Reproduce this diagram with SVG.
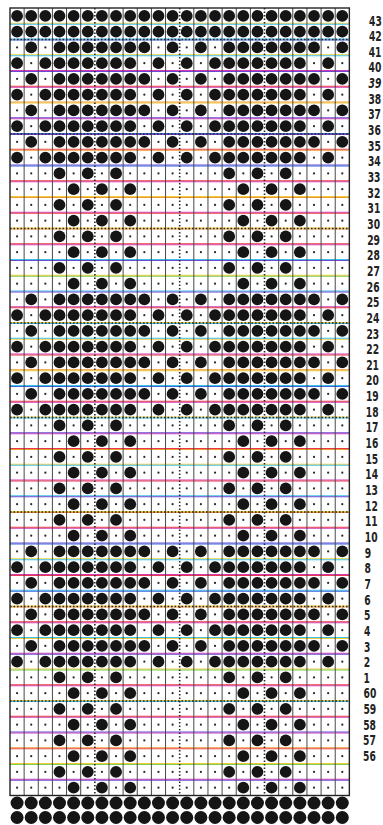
<svg xmlns="http://www.w3.org/2000/svg" width="383" height="825" viewBox="0 0 383 825">
<style>
.bg{fill:#ffffff}
.ln{fill:none;stroke-width:1}
.y{stroke:#f0cc3a}
.c{stroke:#3cc2ea}
.m{stroke:#d43ab8}
.r{stroke:#e8384a}
.v{stroke:#6a48d4}
.o{stroke:#f0982e}
.b{stroke:#3a66e0}
.g{stroke:#80cc4a}
.vl{fill:none;stroke:#484848;stroke-width:1}
.dot{fill:none;stroke:#2a2a2a;stroke-width:1.6;stroke-dasharray:1.6 1.9}
.frame{fill:none;stroke:#222;stroke-width:1.4}
.hole{fill:#151515}
.pin{fill:#2a2a2a}
.lab{font-family:"DejaVu Sans","Liberation Sans",sans-serif;font-size:13.5px;font-weight:bold;fill:#222}
</style>
<defs>
<circle id="h" class="hole" r="5.9"/>
<circle id="H" class="hole" r="6.5"/>
<circle id="d" class="pin" r="1.1"/>
<g id="hA"><use href="#h" x="17.07"/><use href="#h" x="31.21"/><use href="#h" x="45.35"/><use href="#h" x="59.49"/><use href="#h" x="73.63"/><use href="#h" x="87.77"/><use href="#h" x="101.91"/><use href="#h" x="116.05"/><use href="#h" x="130.19"/><use href="#h" x="144.33"/><use href="#h" x="158.47"/><use href="#h" x="172.61"/></g>
<g id="hB"><use href="#d" x="17.07"/><use href="#h" x="31.21"/><use href="#d" x="45.35"/><use href="#h" x="59.49"/><use href="#h" x="73.63"/><use href="#h" x="87.77"/><use href="#h" x="101.91"/><use href="#h" x="116.05"/><use href="#h" x="130.19"/><use href="#h" x="144.33"/><use href="#d" x="158.47"/><use href="#h" x="172.61"/></g>
<g id="hC"><use href="#h" x="17.07"/><use href="#d" x="31.21"/><use href="#h" x="45.35"/><use href="#h" x="59.49"/><use href="#h" x="73.63"/><use href="#h" x="87.77"/><use href="#h" x="101.91"/><use href="#h" x="116.05"/><use href="#h" x="130.19"/><use href="#d" x="144.33"/><use href="#h" x="158.47"/><use href="#d" x="172.61"/></g>
<g id="hD"><use href="#d" x="17.07"/><use href="#d" x="31.21"/><use href="#d" x="45.35"/><use href="#h" x="59.49"/><use href="#d" x="73.63"/><use href="#h" x="87.77"/><use href="#d" x="101.91"/><use href="#h" x="116.05"/><use href="#d" x="130.19"/><use href="#d" x="144.33"/><use href="#d" x="158.47"/><use href="#d" x="172.61"/></g>
<g id="hE"><use href="#d" x="17.07"/><use href="#d" x="31.21"/><use href="#d" x="45.35"/><use href="#d" x="59.49"/><use href="#h" x="73.63"/><use href="#d" x="87.77"/><use href="#h" x="101.91"/><use href="#d" x="116.05"/><use href="#h" x="130.19"/><use href="#d" x="144.33"/><use href="#d" x="158.47"/><use href="#d" x="172.61"/></g>
<g id="hF"><use href="#H" x="17.07"/><use href="#H" x="31.21"/><use href="#H" x="45.35"/><use href="#H" x="59.49"/><use href="#H" x="73.63"/><use href="#H" x="87.77"/><use href="#H" x="101.91"/><use href="#H" x="116.05"/><use href="#H" x="130.19"/><use href="#H" x="144.33"/><use href="#H" x="158.47"/><use href="#H" x="172.61"/></g>
<g id="rA"><use href="#hA"/><use href="#hA" x="169.68"/></g>
<g id="rB"><use href="#hB"/><use href="#hB" x="169.68"/></g>
<g id="rC"><use href="#hC"/><use href="#hC" x="169.68"/></g>
<g id="rD"><use href="#hD"/><use href="#hD" x="169.68"/></g>
<g id="rE"><use href="#hE"/><use href="#hE" x="169.68"/></g>
<g id="rF"><use href="#hF"/><use href="#hF" x="169.68"/></g>
</defs>
<rect class="bg" x="0" y="0" width="383" height="825"/>
<g id="row-lines">
<path class="ln y" d="M10 23.25H349.4M10 54.75H349.4M10 196.5H349.4M10 228H349.4M10 275.25H349.4M10 322.5H349.4M10 417H349.4M10 464.25H349.4M10 511.5H349.4M10 558.75H349.4M10 606H349.4M10 669H349.4M10 700.5H349.4M10 763.5H349.4M10 103H349.4M10 339.25H349.4M10 370.75H349.4M10 638.5H349.4"/>
<path class="ln c" d="M10 39H349.4M10 259.5H349.4M10 291H349.4M10 338.25H349.4M10 385.5H349.4M10 495.75H349.4M10 590.25H349.4M10 637.5H349.4M10 24.25H349.4M10 55.75H349.4M10 323.5H349.4M10 418H349.4M10 465.25H349.4M10 559.75H349.4M10 701.5H349.4"/>
<path class="ln m" d="M10 70.5H349.4M10 212.25H349.4M10 306.75H349.4M10 354H349.4M10 480H349.4M10 574.5H349.4M10 653.25H349.4M10 779.25H349.4M10 87.25H349.4M10 118.75H349.4M10 181.75H349.4M10 244.75H349.4M10 402.25H349.4M10 433.75H349.4M10 528.25H349.4M10 622.75H349.4M10 685.75H349.4M10 717.25H349.4M10 733H349.4"/>
<path class="ln r" d="M10 86.25H349.4M10 149.25H349.4M10 180.75H349.4M10 243.75H349.4M10 401.25H349.4M10 448.5H349.4M10 527.25H349.4M10 621.75H349.4M10 684.75H349.4M10 716.25H349.4M10 213.25H349.4M10 307.75H349.4M10 355H349.4M10 481H349.4M10 575.5H349.4M10 748.75H349.4"/>
<path class="ln v" d="M10 117.75H349.4M10 165H349.4M10 432.75H349.4M10 543H349.4M10 732H349.4M10 71.5H349.4M10 134.5H349.4M10 260.5H349.4M10 292H349.4M10 496.75H349.4M10 654.25H349.4M10 780.25H349.4"/>
<path class="ln o" d="M10 102H349.4M10 369.75H349.4M10 747.75H349.4M10 150.25H349.4M10 197.5H349.4M10 229H349.4M10 449.5H349.4M10 512.5H349.4M10 607H349.4"/>
<path class="ln b" d="M10 133.5H349.4M10 40H349.4M10 166H349.4M10 386.5H349.4M10 544H349.4M10 591.25H349.4"/>
<path class="ln g" d="M10 276.25H349.4M10 670H349.4M10 764.5H349.4"/>
</g>
<g id="column-lines">
<path class="vl" d="M24.14 8V795.5M38.28 8V795.5M52.42 8V795.5M66.56 8V795.5M80.7 8V795.5M108.98 8V795.5M123.12 8V795.5M137.26 8V795.5M151.4 8V795.5M165.54 8V795.5M193.82 8V795.5M207.96 8V795.5M222.1 8V795.5M236.24 8V795.5M250.38 8V795.5M278.66 8V795.5M292.8 8V795.5M306.94 8V795.5M321.08 8V795.5M335.22 8V795.5"/>
<path class="dot" d="M94.84 8V795.5M179.68 8V795.5M264.52 8V795.5"/>
<path class="dot" d="M10 39.5H349.4M10 134H349.4M10 228.5H349.4M10 323H349.4M10 417.5H349.4M10 512H349.4M10 606.5H349.4M10 701H349.4"/>
<rect class="frame" x="10" y="8" width="339.36" height="787.5"/>
</g>
<g id="holes">
<use href="#rA" y="15.88"/>
<use href="#rA" y="31.63"/>
<use href="#rB" y="47.38"/>
<use href="#rC" y="63.13"/>
<use href="#rB" y="78.88"/>
<use href="#rC" y="94.63"/>
<use href="#rB" y="110.38"/>
<use href="#rC" y="126.13"/>
<use href="#rB" y="141.88"/>
<use href="#rC" y="157.63"/>
<use href="#rD" y="173.38"/>
<use href="#rE" y="189.13"/>
<use href="#rD" y="204.88"/>
<use href="#rE" y="220.63"/>
<use href="#rD" y="236.38"/>
<use href="#rE" y="252.13"/>
<use href="#rD" y="267.88"/>
<use href="#rE" y="283.63"/>
<use href="#rB" y="299.38"/>
<use href="#rC" y="315.13"/>
<use href="#rB" y="330.88"/>
<use href="#rC" y="346.63"/>
<use href="#rB" y="362.38"/>
<use href="#rC" y="378.13"/>
<use href="#rB" y="393.88"/>
<use href="#rC" y="409.63"/>
<use href="#rD" y="425.38"/>
<use href="#rE" y="441.13"/>
<use href="#rD" y="456.88"/>
<use href="#rE" y="472.63"/>
<use href="#rD" y="488.38"/>
<use href="#rE" y="504.13"/>
<use href="#rD" y="519.88"/>
<use href="#rE" y="535.63"/>
<use href="#rB" y="551.38"/>
<use href="#rC" y="567.13"/>
<use href="#rB" y="582.88"/>
<use href="#rC" y="598.63"/>
<use href="#rB" y="614.38"/>
<use href="#rC" y="630.13"/>
<use href="#rB" y="645.88"/>
<use href="#rC" y="661.63"/>
<use href="#rD" y="677.38"/>
<use href="#rE" y="693.13"/>
<use href="#rD" y="708.88"/>
<use href="#rE" y="724.63"/>
<use href="#rD" y="740.38"/>
<use href="#rE" y="756.13"/>
<use href="#rD" y="771.88"/>
<use href="#rE" y="787.63"/>
<use href="#rF" y="803"/>
<use href="#rF" y="817.5"/>
</g>
<g id="labels" class="lab">
<text transform="translate(369,25.5) scale(0.68 1)">43</text>
<text transform="translate(368.9,41.15) scale(0.68 1)">42</text>
<text transform="translate(368.7,56.8) scale(0.68 1)">41</text>
<text transform="translate(368.6,72.45) scale(0.68 1)">40</text>
<text transform="translate(368.5,88.1) scale(0.68 1)" font-style="italic">39</text>
<text transform="translate(368.4,103.75) scale(0.68 1)">38</text>
<text transform="translate(368.2,119.4) scale(0.68 1)">37</text>
<text transform="translate(368.1,135.05) scale(0.68 1)">36</text>
<text transform="translate(368,150.7) scale(0.68 1)">35</text>
<text transform="translate(367.9,166.35) scale(0.68 1)">34</text>
<text transform="translate(367.7,182) scale(0.68 1)">33</text>
<text transform="translate(367.6,197.65) scale(0.68 1)">32</text>
<text transform="translate(367.5,213.3) scale(0.68 1)">31</text>
<text transform="translate(367.3,228.95) scale(0.68 1)">30</text>
<text transform="translate(367.2,244.6) scale(0.68 1)">29</text>
<text transform="translate(367.1,260.25) scale(0.68 1)">28</text>
<text transform="translate(367,275.9) scale(0.68 1)">27</text>
<text transform="translate(366.8,291.55) scale(0.68 1)">26</text>
<text transform="translate(366.7,307.2) scale(0.68 1)">25</text>
<text transform="translate(366.6,322.85) scale(0.68 1)">24</text>
<text transform="translate(366.4,338.5) scale(0.68 1)">23</text>
<text transform="translate(366.3,354.15) scale(0.68 1)">22</text>
<text transform="translate(366.2,369.8) scale(0.68 1)">21</text>
<text transform="translate(366.1,385.45) scale(0.68 1)">20</text>
<text transform="translate(365.9,401.1) scale(0.68 1)">19</text>
<text transform="translate(365.8,416.75) scale(0.68 1)">18</text>
<text transform="translate(365.7,432.4) scale(0.68 1)">17</text>
<text transform="translate(365.5,448.05) scale(0.68 1)">16</text>
<text transform="translate(365.4,463.7) scale(0.68 1)">15</text>
<text transform="translate(365.3,479.35) scale(0.68 1)">14</text>
<text transform="translate(365.2,495) scale(0.68 1)">13</text>
<text transform="translate(365,510.65) scale(0.68 1)">12</text>
<text transform="translate(364.9,526.3) scale(0.68 1)">11</text>
<text transform="translate(364.8,541.95) scale(0.68 1)">10</text>
<text transform="translate(364.7,557.6) scale(0.68 1)">9</text>
<text transform="translate(364.5,573.25) scale(0.68 1)">8</text>
<text transform="translate(364.4,588.9) scale(0.68 1)">7</text>
<text transform="translate(364.3,604.55) scale(0.68 1)">6</text>
<text transform="translate(364.1,620.2) scale(0.68 1)">5</text>
<text transform="translate(364,635.85) scale(0.68 1)">4</text>
<text transform="translate(363.9,651.5) scale(0.68 1)">3</text>
<text transform="translate(363.8,667.15) scale(0.68 1)">2</text>
<text transform="translate(363.6,682.8) scale(0.68 1)">1</text>
<text transform="translate(363.5,698.45) scale(0.68 1)">60</text>
<text transform="translate(363.4,714.1) scale(0.68 1)">59</text>
<text transform="translate(363.2,729.75) scale(0.68 1)">58</text>
<text transform="translate(363.1,745.4) scale(0.68 1)">57</text>
<text transform="translate(363,761.05) scale(0.68 1)">56</text>
</g>
</svg>
